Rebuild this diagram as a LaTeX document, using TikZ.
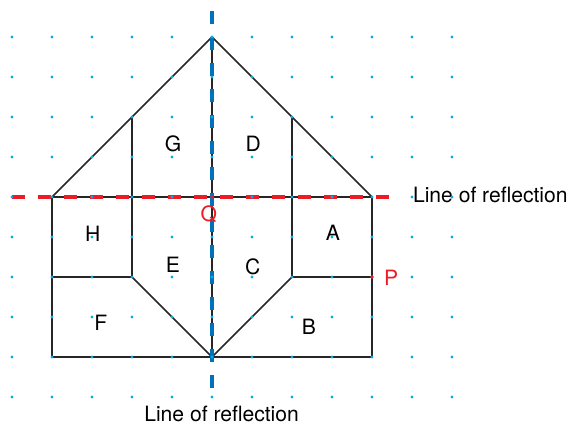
\documentclass[tikz,border=0pt]{standalone}
\usepackage{fontspec}
\setmainfont{TeX Gyre Heros}
\usetikzlibrary{positioning}
\definecolor{dotblue}{RGB}{0,174,239}
\definecolor{axisblue}{RGB}{0,114,188}
\definecolor{mirrorred}{RGB}{237,28,36}

\begin{document}
\begin{tikzpicture}[scale=1.0, font=\fontsize{15}{18}\selectfont,
        edge/.style={line width=1.1pt, black!85, line join=miter},
        mirror/.style={line width=2.3pt, dash pattern=on 9.5pt off 9pt}]
        \useasboundingbox (-5.3,-5.725) rectangle (8.975,4.925);
        % outline of the shape
        \coordinate (top) at (0,4);
        \coordinate (bot) at (0,-4);
        \draw[edge] (-4,-4) -- (-4,0) -- (top) -- (4,0) -- (4,-4) -- cycle;
        \draw[edge] (-4,0) -- (4,0);
        \draw[edge] (top) -- (bot);
        \draw[edge] (-2,2) -- (-2,-2) -- (bot) -- (2,-2) -- (2,2);
        \draw[edge] (-4,-2) -- (-2,-2);
        \draw[edge] (2,-2) -- (4,-2);
        % the two mirror lines
        \draw[mirror, mirrorred] (-5,0) -- (4.72,0);
        \draw[mirror, axisblue] (0,4.66) -- (0,-5.02);
        \node[anchor=west, inner sep=0pt] (mirrorH) at (5.02,0.06) {Line of reflection};
        \node[inner sep=0pt] (mirrorV) at (0.24,-5.42) {Line of reflection};
        % grid dots
        \foreach \x in {-5,...,6}
            \foreach \y in {-5,...,4}
                \fill[dotblue] (\x,\y) circle (1.15pt);
        \fill[mirrorred] (0,0) circle (1.3pt);
        \fill[mirrorred] (4,-2) circle (1.3pt);
        % labels
        \node (lblG) at (-0.97,1.32) {G};
        \node (lblD) at (1.03,1.32) {D};
        \node (lblH) at (-2.98,-0.92) {H};
        \node (lblA) at (3.02,-0.9) {A};
        \node (lblE) at (-0.98,-1.7) {E};
        \node (lblC) at (1.02,-1.75) {C};
        \node (lblF) at (-2.78,-3.15) {F};
        \node (lblB) at (2.42,-3.25) {B};
        \node[text=mirrorred] (ptQ) at (-0.08,-0.42) {Q};
        \node[text=mirrorred] (ptP) at (4.48,-2.02) {P};
    \end{tikzpicture}
\end{document}
